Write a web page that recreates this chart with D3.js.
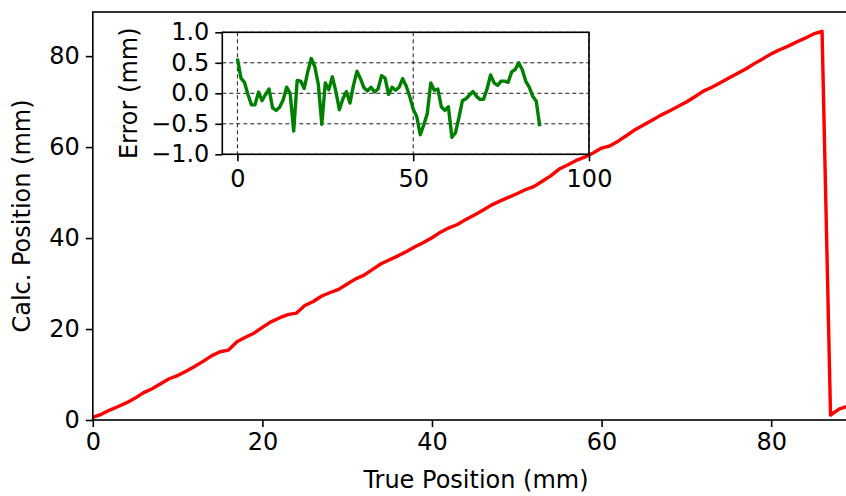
<!DOCTYPE html>
<html>
<head>
<meta charset="utf-8">
<script src="https://cdn.jsdelivr.net/npm/d3@7"></script>
<style>
    body { margin: 0; background: #fff; }
    text { font-family: "DejaVu Sans", sans-serif; }
</style>
</head>
<body>
<svg width="846" height="496"></svg>
<script>
// true position (mm)
const truePos = d3.range(0, 90);
// calculated position (mm)
const calcPos = [
    0.57, 1.25, 2.18, 2.98, 3.81, 4.81, 6.02, 6.88, 7.98, 9.07,
    9.76, 10.72, 11.77, 12.89, 14.10, 15.00, 15.38, 17.21, 18.20, 19.08,
    20.35, 21.57, 22.44, 23.15, 23.49, 25.17, 26.06, 27.27, 28.03, 28.73,
    29.91, 31.03, 31.84, 33.13, 34.36, 35.24, 36.09, 37.04, 38.10, 39.02,
    40.07, 41.29, 42.25, 42.98, 44.10, 45.05, 46.10, 47.24, 48.12, 48.95,
    49.74, 50.62, 51.32, 52.48, 53.67, 55.17, 56.05, 57.07, 57.78, 58.72,
    59.78, 60.28, 61.35, 62.60, 63.88, 64.91, 65.97, 67.03, 67.95, 68.90,
    69.90, 71.07, 72.30, 73.17, 74.13, 75.20, 76.20, 77.18, 78.35, 79.39,
    80.50, 81.39, 82.20, 83.10, 83.95, 84.87, 85.46, 1.10, 2.40, 3.00
];
// error (mm) for the inset, true positions 0..86
const errPos = d3.range(0, 87);
const errVals = [
    0.57, 0.25, 0.18, -0.02, -0.19, -0.19, 0.02, -0.12, -0.02, 0.07,
    -0.24, -0.28, -0.23, -0.11, 0.10, 0.00, -0.62, 0.21, 0.20, 0.08,
    0.35, 0.57, 0.44, 0.15, -0.51, 0.17, 0.06, 0.27, 0.03, -0.27,
    -0.09, 0.03, -0.16, 0.13, 0.36, 0.24, 0.09, 0.04, 0.10, 0.02,
    0.07, 0.29, 0.25, -0.02, 0.10, 0.05, 0.10, 0.24, 0.12, -0.05,
    -0.26, -0.38, -0.68, -0.52, -0.33, 0.17, 0.05, 0.07, -0.22, -0.28,
    -0.22, -0.72, -0.65, -0.40, -0.12, -0.09, -0.03, 0.03, -0.05, -0.10,
    -0.10, 0.07, 0.30, 0.17, 0.13, 0.20, 0.20, 0.18, 0.35, 0.39,
    0.50, 0.39, 0.20, 0.10, -0.05, -0.13, -0.54
];
const mainXTicks = [0, 20, 40, 60, 80];
const mainYTicks = [0, 20, 40, 60, 80];
const insetXTicks = [0, 50, 100];
const insetYTicks = [-1.0, -0.5, 0.0, 0.5, 1.0];

const svg = d3.select("svg");
const fontSize = 24;

// ---- main axes ----
const main = {left: 92.8, right: 847.5, top: 12, bottom: 420};
const x = d3.scaleLinear().domain([0, 89]).range([main.left, main.right]);
const y = d3.scaleLinear().domain([0, 89.7]).range([main.bottom, main.top]);

const line = d3.line()
    .x((d, i) => x(truePos[i]))
    .y((d) => y(d));

svg.append("path")
    .attr("d", line(calcPos))
    .attr("stroke", "#ff0000")
    .attr("stroke-width", 3.4)
    .attr("stroke-linejoin", "round")
    .attr("fill", "none");

function styleAxis(g, size) {
    g.select(".domain").remove();
    g.selectAll(".tick line").attr("stroke", "#000").attr("stroke-width", 1.6);
    g.selectAll(".tick text")
        .attr("fill", "#000")
        .style("font-size", size + "px");
}

svg.append("g")
    .attr("transform", `translate(0,${main.bottom})`)
    .call(d3.axisBottom(x).tickValues(mainXTicks).tickSize(7).tickPadding(6))
    .call((g) => styleAxis(g, fontSize));

svg.append("g")
    .attr("transform", `translate(${main.left},0)`)
    .call(d3.axisLeft(y).tickValues(mainYTicks).tickSize(7).tickPadding(6))
    .call((g) => styleAxis(g, fontSize));

// spines
svg.append("rect")
    .attr("x", main.left).attr("y", main.top)
    .attr("width", main.right - main.left).attr("height", main.bottom - main.top)
    .attr("fill", "none").attr("stroke", "#000").attr("stroke-width", 1.6);

svg.append("text")
    .attr("x", 476)
    .attr("y", 488)
    .attr("text-anchor", "middle")
    .style("font-size", fontSize + "px")
    .text("True Position (mm)");

svg.append("text")
    .attr("transform", `translate(30,${(main.top + main.bottom) / 2}) rotate(-90)`)
    .attr("text-anchor", "middle")
    .style("font-size", fontSize + "px")
    .text("Calc. Position (mm)");

// ---- inset axes ----
const ins = {left: 222.3, right: 589, top: 32.3, bottom: 154.3};
const ix = d3.scaleLinear().domain([-4.3, 100]).range([ins.left, ins.right]);
const iy = d3.scaleLinear().domain([-1, 1]).range([ins.bottom, ins.top]);

svg.append("rect")
    .attr("x", ins.left).attr("y", ins.top)
    .attr("width", ins.right - ins.left).attr("height", ins.bottom - ins.top)
    .attr("fill", "#fff");

// dashed grid
svg.append("g").selectAll("line")
    .data(insetXTicks)
    .join("line")
    .attr("x1", (d) => ix(d)).attr("x2", (d) => ix(d))
    .attr("y1", ins.top).attr("y2", ins.bottom)
    .attr("stroke", "#000").attr("stroke-width", 0.9)
    .attr("stroke-dasharray", "4,3");

svg.append("g").selectAll("line")
    .data(insetYTicks)
    .join("line")
    .attr("x1", ins.left).attr("x2", ins.right)
    .attr("y1", (d) => iy(d)).attr("y2", (d) => iy(d))
    .attr("stroke", "#000").attr("stroke-width", 0.9)
    .attr("stroke-dasharray", "4,3");

const errLine = d3.line()
    .x((d, i) => ix(errPos[i]))
    .y((d) => iy(d));

svg.append("path")
    .attr("d", errLine(errVals))
    .attr("stroke", "#008000")
    .attr("stroke-width", 3.4)
    .attr("stroke-linejoin", "round")
    .attr("fill", "none");

svg.append("g")
    .attr("transform", `translate(0,${ins.bottom})`)
    .call(d3.axisBottom(ix).tickValues(insetXTicks).tickSize(7).tickPadding(9))
    .call((g) => styleAxis(g, fontSize));

svg.append("g")
    .attr("transform", `translate(${ins.left},0)`)
    .call(d3.axisLeft(iy).tickValues(insetYTicks).tickFormat(d3.format(".1f")).tickSize(7).tickPadding(6))
    .call((g) => styleAxis(g, fontSize));

svg.append("rect")
    .attr("x", ins.left).attr("y", ins.top)
    .attr("width", ins.right - ins.left).attr("height", ins.bottom - ins.top)
    .attr("fill", "none").attr("stroke", "#000").attr("stroke-width", 1.6);

svg.append("text")
    .attr("transform", `translate(137,${(ins.top + ins.bottom) / 2}) rotate(-90)`)
    .attr("text-anchor", "middle")
    .style("font-size", fontSize + "px")
    .text("Error (mm)");
</script>
</body>
</html>
